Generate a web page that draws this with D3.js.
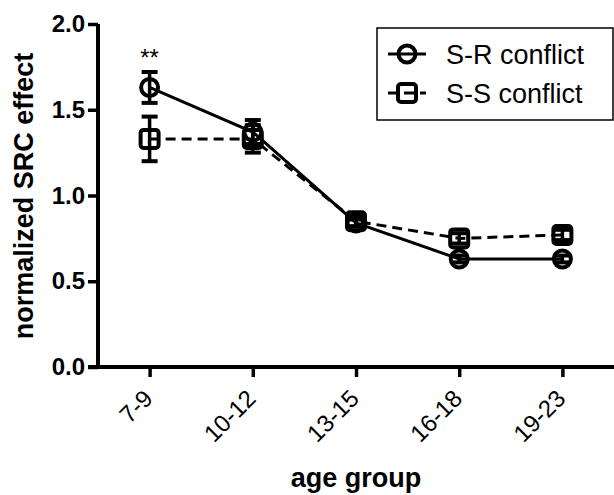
<!DOCTYPE html>
<meta charset="utf-8">
<style>
    body { margin: 0; background: #fff; }
    text { font-family: Arial, "Liberation Sans", sans-serif; fill: #000; }
    .tick-y { font-size: 24px; font-weight: bold; }
    .tick-x { font-size: 24px; }
    .title { font-size: 27px; font-weight: bold; }
    .legend text { font-size: 27px; }
    .axis .domain { stroke: #000; stroke-width: 4px; }
    .axis .tick line { stroke: #000; stroke-width: 3.5px; }
</style>
<body>
<script src="https://cdn.jsdelivr.net/npm/d3@7"></script>
<script>

// data
var groups = ["7-9", "10-12", "13-15", "16-18", "19-23"];
var srMean = [1.63, 1.37, 0.84, 0.63, 0.63];
var srErr  = [0.09, 0.07, 0.02, 0.02, 0.02];
var ssMean = [1.33, 1.33, 0.85, 0.75, 0.77];
var ssErr  = [0.13, 0.08, 0.03, 0.03, 0.03];
var yTicks = [0, 0.5, 1.0, 1.5, 2.0];
var seriesNames = ["S-R conflict", "S-S conflict"];

var width = 614, height = 495;

var svg = d3.select("body").append("svg")
    .attr("width", width)
    .attr("height", height);

var x = d3.scalePoint().domain(groups).range([98, 614]).padding(0.5);
var y = d3.scaleLinear().domain([0, 2]).range([367, 24]);

// axes
var yAxis = svg.append("g")
    .attr("class", "axis")
    .attr("transform", "translate(98,0)")
    .call(d3.axisLeft(y).tickValues(yTicks).tickFormat(d3.format(".1f")).tickSize(10).tickPadding(3));
yAxis.select(".domain").attr("d", "M0," + y(2) + "V" + (y(0) + 2));
yAxis.selectAll(".tick text").attr("class", "tick-y").attr("font-size", null).attr("font-family", null);

var xAxis = svg.append("g")
    .attr("class", "axis")
    .attr("transform", "translate(0," + y(0) + ")")
    .call(d3.axisBottom(x).tickSize(10).tickSizeOuter(0));
xAxis.select(".domain").attr("d", "M88,0H614");
xAxis.selectAll(".tick text")
    .attr("class", "tick-x")
    .attr("font-size", null).attr("font-family", null)
    .attr("text-anchor", "end")
    .attr("dy", null)
    .attr("y", 0)
    .attr("transform", "translate(4,33) rotate(-45)");

// titles
svg.append("text")
    .attr("class", "title")
    .attr("text-anchor", "middle")
    .attr("transform", "translate(33,196) rotate(-90)")
    .text("normalized SRC effect");

svg.append("text")
    .attr("class", "title")
    .attr("text-anchor", "middle")
    .attr("x", 356)
    .attr("y", 487)
    .text("age group");

// series
var series = [
    {mean: srMean, err: srErr, dash: null, shape: "circle"},
    {mean: ssMean, err: ssErr, dash: "10,6", shape: "square"}
];

var line = d3.line()
    .x(function(d, i) { return x(groups[i]); })
    .y(function(d) { return y(d); });

function drawMarker(g, shape, cx, cy) {
    if (shape === "circle") {
        g.append("circle")
            .attr("cx", cx).attr("cy", cy).attr("r", 8.5)
            .attr("fill", "none").attr("stroke", "#000").attr("stroke-width", 4);
    } else {
        g.append("rect")
            .attr("x", cx - 9).attr("y", cy - 9)
            .attr("width", 18).attr("height", 18).attr("rx", 3)
            .attr("fill", "none").attr("stroke", "#000").attr("stroke-width", 4);
    }
}

series.forEach(function(s) {
    var g = svg.append("g");
    g.append("path")
        .datum(s.mean)
        .attr("d", line)
        .attr("fill", "none")
        .attr("stroke", "#000")
        .attr("stroke-width", 3)
        .attr("stroke-dasharray", s.dash);

    s.mean.forEach(function(m, i) {
        var cx = x(groups[i]);
        var top = y(m + s.err[i]), bot = y(m - s.err[i]);
        g.append("line")
            .attr("x1", cx).attr("x2", cx).attr("y1", top).attr("y2", bot)
            .attr("stroke", "#000").attr("stroke-width", 3.5);
        [top, bot].forEach(function(v) {
            g.append("line")
                .attr("x1", cx - 8).attr("x2", cx + 8).attr("y1", v).attr("y2", v)
                .attr("stroke", "#000").attr("stroke-width", 4);
        });
        drawMarker(g, s.shape, cx, y(m));
    });
});

// significance mark
svg.append("text")
    .attr("x", x(groups[0]))
    .attr("y", 66)
    .attr("text-anchor", "middle")
    .attr("font-size", 24)
    .text("**");

// legend
var legend = svg.append("g").attr("class", "legend");
legend.append("rect")
    .attr("x", 377).attr("y", 28)
    .attr("width", 236).attr("height", 92)
    .attr("fill", "none").attr("stroke", "#000").attr("stroke-width", 1.5);

seriesNames.forEach(function(name, i) {
    var ly = 54 + i * 39;
    legend.append("line")
        .attr("x1", 388).attr("x2", 426).attr("y1", ly).attr("y2", ly)
        .attr("stroke", "#000").attr("stroke-width", 3)
        .attr("stroke-dasharray", series[i].dash);
    drawMarker(legend, series[i].shape, 407, ly);
    legend.append("text")
        .attr("x", 446).attr("y", ly + 10)
        .text(name);
});

</script>
</body>
